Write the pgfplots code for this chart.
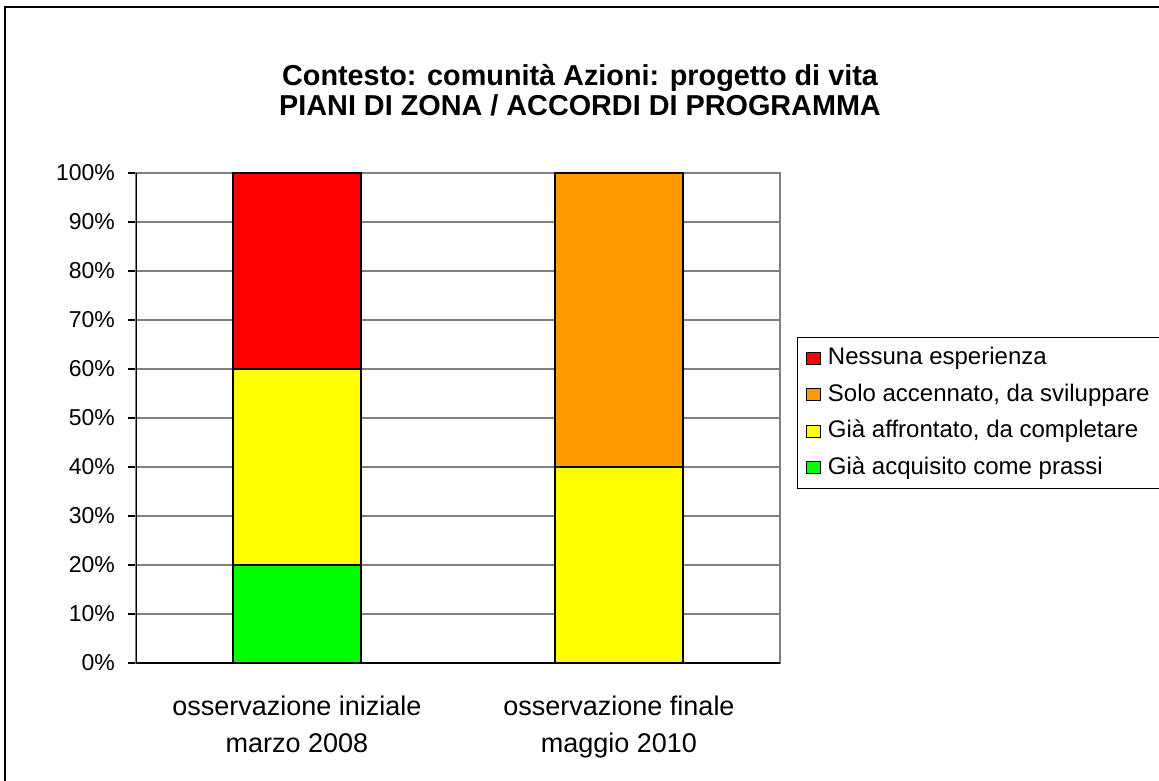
\documentclass[border=0pt]{standalone}
\usepackage{fontspec}
\setmainfont{Liberation Sans}
\usepackage{pgfplots}
\pgfplotsset{compat=1.18}
\definecolor{cred}{RGB}{255,0,0}
\definecolor{corange}{RGB}{255,153,0}
\definecolor{cyellow}{RGB}{255,255,0}
\definecolor{cgreen}{RGB}{0,255,0}
\definecolor{cgrid}{RGB}{128,128,128}
\begin{document}
\begin{tikzpicture}[x=1pt,y=1pt]
\useasboundingbox (0,0) rectangle (579.5,390);
\draw[line width=0.8pt] (2.5,-10) -- (2.5,386.5) -- (600,386.5);
\node[align=center,font=\bfseries\fontsize{14.4}{15}\selectfont] at (290,345) {Contesto: comunità Azioni: progetto di vita\\PIANI DI ZONA / ACCORDI DI PROGRAMMA};
\begin{axis}[
  at={(68pt,58.5pt)}, anchor=south west,
  scale only axis, width=322pt, height=245pt,
  xmin=-0.5, xmax=1.5, ymin=0, ymax=100,
  ybar stacked, bar width=64pt,
  axis line style={draw=cgrid, line width=0.6pt},
  tick pos=left,
  xtick={0,1},
  xticklabels={osservazione iniziale\\marzo 2008, osservazione finale\\maggio 2010},
  major x tick style={draw=none},
  extra x ticks={-0.5,0.5,1.5},
  extra x tick labels={},
  extra x tick style={grid=none, tick align=outside, major tick length=4pt, tick style={draw=black, line width=0.6pt}},
  ytick={0,10,...,100},
  yticklabels={0\%,10\%,20\%,30\%,40\%,50\%,60\%,70\%,80\%,90\%,100\%},
  ytick align=outside, major tick length=4pt,
  y tick style={draw=black, line width=0.6pt},
  ymajorgrids, major grid style={draw=cgrid, line width=0.6pt},
  yticklabel style={font=\fontsize{11.5}{13}\selectfont, xshift=-3pt},
  xticklabel style={align=center, font=\fontsize{13.5}{18.5}\selectfont, yshift=-13pt},
  legend style={at={(rel axis cs:1.026,0.665)}, anchor=north west, draw=black, line width=0.6pt,
    font=\fontsize{12}{13}\selectfont, row sep=4.75pt, inner xsep=4pt, inner ysep=3.5pt,
    nodes={text height=9pt, text depth=2.5pt, inner ysep=1pt},
    legend cell align=left},
  reverse legend,
  every axis plot post/.append style={legend image code/.code={\draw[##1,draw=black,line width=0.6pt] (0pt,-3pt) rectangle (7pt,3pt); \path (0pt,0pt) (8.5pt,0pt);}},
]
\addplot[fill=cgreen, draw=black, line width=0.8pt] coordinates {(0,20) (1,0)};
\addplot[fill=cyellow, draw=black, line width=0.8pt] coordinates {(0,40) (1,40)};
\addplot[fill=corange, draw=black, line width=0.8pt] coordinates {(0,0) (1,60)};
\addplot[fill=cred, draw=black, line width=0.8pt] coordinates {(0,40) (1,0)};
\legend{Già acquisito come prassi, Già affrontato{,} da completare, Solo accennato{,} da sviluppare, Nessuna esperienza}
\draw[black, line width=0.6pt] (rel axis cs:0,1) -- (rel axis cs:0,0) -- (rel axis cs:1,0);
\end{axis}
\end{tikzpicture}
\end{document}
